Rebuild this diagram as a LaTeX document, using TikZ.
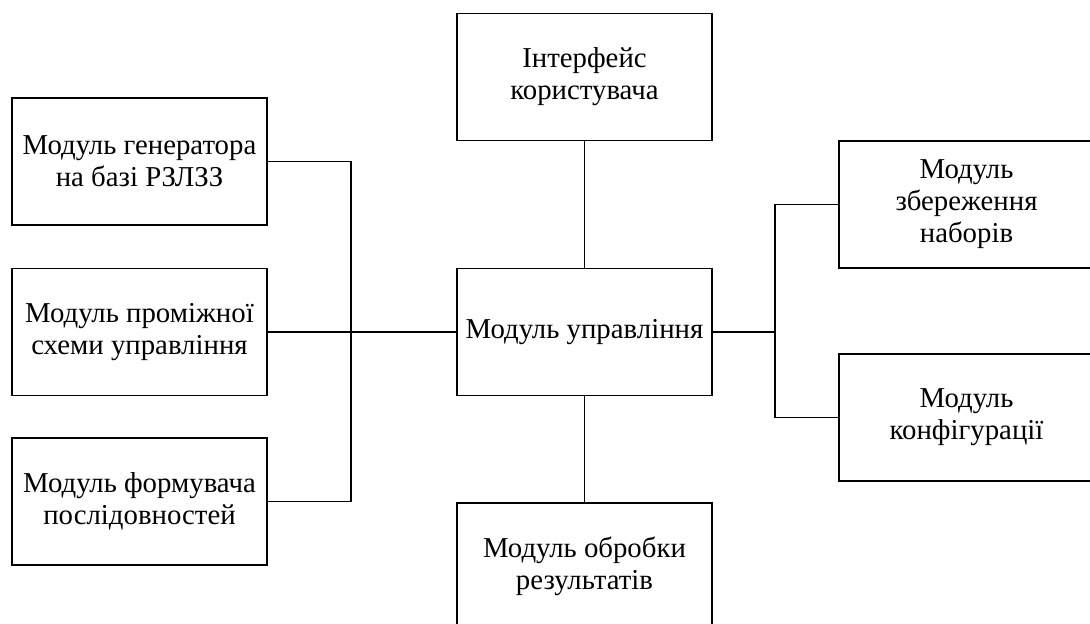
\documentclass[tikz,border=0pt]{standalone}
\usepackage{fontspec}
\setmainfont{Liberation Serif}
\begin{document}
\begin{tikzpicture}[x=1pt,y=-1pt,
  box/.style={draw, line width=1.6pt, minimum width=255pt, minimum height=127pt, inner sep=0pt, align=center, font=\fontsize{28.8}{32}\selectfont},
  link/.style={line width=1.6pt}]
\useasboundingbox (0,0) rectangle (1090,624);
\clip (0,0) rectangle (1090,624);
\node[box] (ui) at (584.5,77) {Інтерфейс\\користувача};
\node[box] (ctrl) at (584.5,332) {Модуль управління};
\node[box] (res) at (584.5,566.5) {Модуль обробки\\результатів};
\node[box] (g1) at (139.5,161.5) {Модуль генератора\\на базі РЗЛЗЗ};
\node[box] (g2) at (139.5,332) {Модуль проміжної\\схеми управління};
\node[box] (g3) at (139.5,501.5) {Модуль формувача\\послідовностей};
\node[box] (s1) at (966.5,204.5) {Модуль\\збереження\\наборів};
\node[box] (s2) at (966.5,417.5) {Модуль\\конфігурації};
\coordinate (jl) at (351,332);
\coordinate (jr) at (775,332);
\draw[link] (g1.east) -| (jl) |- (g3.east);
\draw[link] (g2.east) -- (ctrl.west);
\draw[link] (ctrl.east) -- (jr);
\draw[link] (s1.west) -| (jr) |- (s2.west);
\draw[link] (ui.south) -- (ctrl.north);
\draw[link] (ctrl.south) -- (res.north);
\end{tikzpicture}
\end{document}
